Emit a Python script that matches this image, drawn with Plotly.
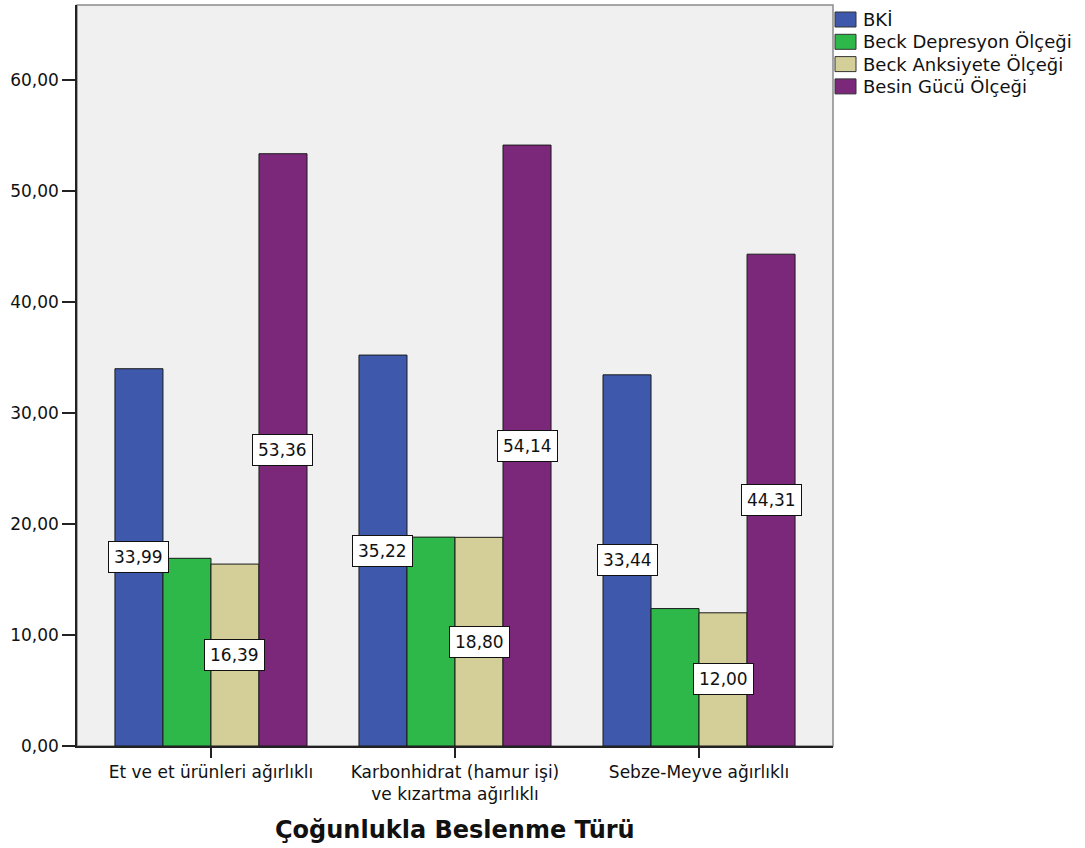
import plotly.graph_objects as go

# Groups (x categories) and series values
categories = [
    "Et ve et ürünleri ağırlıklı",
    "Karbonhidrat (hamur işi)<br>ve kızartma ağırlıklı",
    "Sebze-Meyve ağırlıklı",
]
series_names = ["BKİ", "Beck Depresyon Ölçeği", "Beck Anksiyete Ölçeği", "Besin Gücü Ölçeği"]
bki = [33.99, 35.22, 33.44]
beck_depresyon = [16.91, 18.82, 12.38]
beck_anksiyete = [16.39, 18.80, 12.00]
besin_gucu = [53.36, 54.14, 44.31]
series_values = [bki, beck_depresyon, beck_anksiyete, besin_gucu]
# which series carry value labels
labelled = [True, False, True, True]

y_ticks = [0, 10, 20, 30, 40, 50, 60]
y_max = 66.76

colors = ["#3E58AC", "#2FB84A", "#D4CF98", "#7B287B"]
FONT = "DejaVu Sans"

W, H = 1085, 848
L, R, T, B = 77, 252, 5, 102
plot_w = W - L - R
plot_h = H - T - B

def px_x(px):
    return (px - L) / plot_w

def px_y(py):
    return (H - B - py) / plot_h

def fmt(v):
    return f"{v:.2f}".replace(".", ",")

bargap = 0.213
n_series = len(series_names)
bar_w = (1 - bargap) / n_series

fig = go.Figure()
idx = list(range(len(categories)))
for name, vals, col in zip(series_names, series_values, colors):
    fig.add_trace(go.Bar(
        x=idx, y=vals, name=name,
        marker=dict(color=col, line=dict(color="#1a1a1a", width=1)),
        showlegend=False,
    ))

# value labels in white boxes at half the bar height
annotations = []
for s, (vals, lab) in enumerate(zip(series_values, labelled)):
    if not lab:
        continue
    off = (s - (n_series - 1) / 2) * bar_w
    for i, v in enumerate(vals):
        annotations.append(dict(
            x=i + off, y=v / 2, xref="x", yref="y",
            text=fmt(v), showarrow=False,
            font=dict(family=FONT, size=17, color="#111"),
            bgcolor="white", bordercolor="#111", borderwidth=1, borderpad=5,
        ))

# legend drawn as swatches + text to the right of the plot
shapes = []
row0, row_step = 19.5, 22.3
for k, (name, col) in enumerate(zip(series_names, colors)):
    cy = row0 + k * row_step
    shapes.append(dict(
        type="rect", xref="paper", yref="paper",
        x0=px_x(835), x1=px_x(856), y0=px_y(cy + 7.5), y1=px_y(cy - 7.5),
        fillcolor=col, line=dict(color="#333", width=1),
    ))
    annotations.append(dict(
        x=px_x(861), y=px_y(cy), xref="paper", yref="paper",
        xanchor="left", yanchor="middle", text=name, showarrow=False,
        font=dict(family=FONT, size=18, color="#111"),
    ))

# axis title
annotations.append(dict(
    x=0.5, y=px_y(830), xref="paper", yref="paper",
    xanchor="center", yanchor="middle", text="<b>Çoğunlukla Beslenme Türü</b>",
    showarrow=False, font=dict(family=FONT, size=24, color="#111"),
))

# plot frame
shapes.append(dict(
    type="rect", xref="paper", yref="paper", x0=0, x1=1, y0=0, y1=1,
    line=dict(color="#8a8a8a", width=1.5), layer="below",
))

fig.update_layout(
    width=W, height=H,
    margin=dict(l=L, r=R, t=T, b=B, pad=0),
    paper_bgcolor="white", plot_bgcolor="#F0F0F0",
    barmode="group", bargap=bargap, bargroupgap=0,
    annotations=annotations, shapes=shapes,
    showlegend=False,
    font=dict(family=FONT, size=17, color="#111"),
)
fig.update_xaxes(
    tickmode="array", tickvals=idx, ticktext=categories,
    range=[-0.549, 2.549], showgrid=False, zeroline=False,
    showline=True, linecolor="#222", linewidth=1.5,
    ticks="outside", ticklen=10, tickcolor="#222", tickwidth=1.5,
    tickfont=dict(family=FONT, size=17, color="#111"),
)
fig.update_yaxes(
    tickmode="array", tickvals=y_ticks, ticktext=[fmt(v) for v in y_ticks],
    range=[0, y_max], showgrid=False, zeroline=False,
    showline=True, linecolor="#222", linewidth=1.5,
    ticks="outside", ticklen=13, tickcolor="#222", tickwidth=1.5,
    tickfont=dict(family=FONT, size=17, color="#111"),
)

fig.write_html("out.html")
